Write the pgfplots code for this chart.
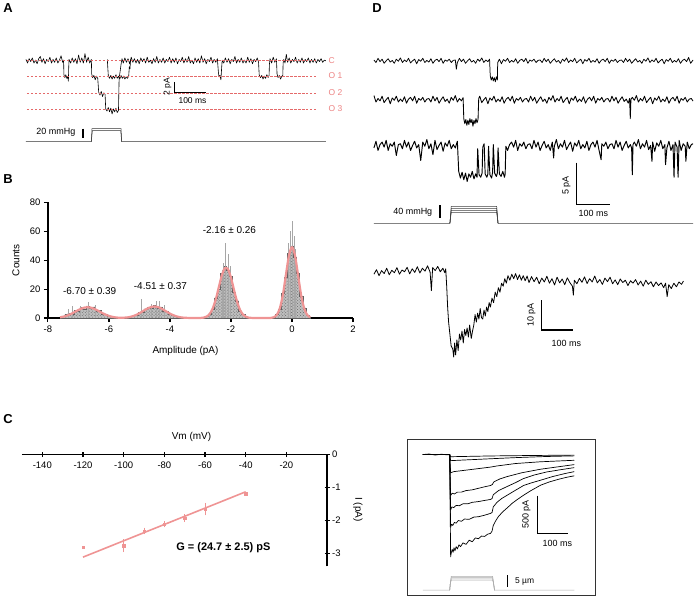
\documentclass[border=0pt]{standalone}
\usepackage{pgfplots}
\pgfplotsset{compat=1.18}
\usepackage{fontspec}
\setmainfont{Liberation Sans}
\usetikzlibrary{patterns}
\definecolor{dashred}{RGB}{228,105,105}
\definecolor{lblpink}{RGB}{236,130,130}
\definecolor{fitpink}{RGB}{239,148,148}
\newcommand\fs[1]{\fontsize{#1}{#1}\selectfont}
\pgfplotsset{
  tr/.style={hide axis, scale only axis, clip=false, anchor=south west},
  trace/.style={black, line width=0.6pt, line join=round},
}
\begin{document}
\begin{tikzpicture}
\path (0pt,0pt) rectangle (696pt,609pt);

% ---------------- A: single channel sweeps ----------------
\begin{axis}[tr, at={(24pt,464pt)}, width=300.8pt, height=98.55pt,
  xmin=0, xmax=940, ymin=-11.5, ymax=2]
\addplot[trace] coordinates {
(0,0.2)(5,-0.3)(10,0.3)(15,-0.1)(20,0.4)(25,-0.3)(30,0.1)(35,-0.4)(40,0.3)(45,0.6)(50,-0.2)(55,0.3)(60,-0.4)(65,0.2)(70,-0.1)(75,0.5)(80,-0.3)(85,0.2)(90,-0.2)(95,0.4)(100,-0.3)(105,0.1)(110,0.7)(115,-0.2)
(118,0.1)(119,-1.9)(122,-2.3)(125,-1.9)(128,-2.4)(131,-2.2)(133,-2.8)(134,-1.0)(135,0.2)
(140,-0.3)(145,0.4)(150,-0.2)(155,0.3)(160,-0.4)(165,0.8)(170,-0.2)(175,0.4)(180,-0.3)(185,1.0)(190,-0.2)(195,0.5)(200,-0.3)(205,0.2)
(206,-1.8)(209,-2.3)(213,-2.0)(217,-2.6)(221,-2.1)(225,-2.4)(228,-4.3)(232,-4.7)(236,-4.2)(240,-4.9)(244,-4.4)(248,-4.6)(250,-6.6)(254,-6.9)(258,-6.4)(262,-7.0)(266,-6.5)(270,-7.3)(274,-6.6)(278,-7.0)(282,-6.5)(286,-7.1)(290,-6.8)(292,-2.4)(295,-1.5)(298,-0.5)(301,0.3)(305,-0.3)(310,0.4)(315,-0.2)(320,0.3)
(325,-0.4)(330,0.5)(335,-0.2)(340,0.3)(345,-0.3)(350,0.2)(355,-0.4)(360,0.4)(365,-0.1)(370,0.3)(375,-0.3)(380,0.5)(385,-0.2)(390,0.1)(395,-0.4)(400,0.3)(405,-0.2)(410,0.6)(415,-0.3)(420,0.2)(425,-0.2)(430,0.4)(435,-0.3)(440,0.2)(445,-0.1)(450,0.5)(455,-0.3)(460,0.3)(465,-0.2)(470,0.4)(475,-0.4)(480,0.2)(485,-0.1)(490,0.5)(495,-0.3)(500,0.3)(505,-0.2)(510,0.6)(515,-0.3)(520,0.1)(525,-0.4)(530,0.4)(535,-0.2)(540,0.3)(545,-0.3)(550,0.7)(555,-0.2)(560,0.3)(565,-0.4)(570,0.2)(575,-0.1)(580,0.5)(585,-0.3)(590,0.2)(595,-0.2)(600,0.3)
(603,-1.5)(605,-2.2)(608,-2.0)(611,-2.6)(613,-1.2)(615,0.1)
(620,-0.3)(625,0.4)(630,-0.2)(635,0.3)(640,-0.4)(645,0.2)(650,-0.1)(655,0.6)(660,-0.3)(665,0.2)(670,-0.2)(675,0.4)(680,-0.3)(685,0.1)(690,-0.3)(695,0.5)(700,-0.2)(705,0.3)(710,-0.4)(715,0.2)(720,-0.1)(725,0.4)(729,-0.2)
(731,-1.9)(735,-2.3)(739,-2.0)(743,-2.5)(747,-2.1)(751,-2.4)(755,-1.9)(759,-2.3)(762,-2.0)(763,-0.5)(765,0.3)
(770,-0.3)(775,0.5)(780,-0.2)(785,0.3)
(787,-1.8)(790,-2.3)(794,-2.0)(798,-2.5)(802,-2.1)(805,-2.0)(806,-0.3)(808,0.2)
(812,-0.3)(816,0.9)(820,-0.2)(825,0.4)(830,-0.3)(835,0.2)(840,-0.1)(845,0.5)(850,-0.3)(855,0.2)(860,-0.2)(865,0.4)(870,-0.3)(875,0.2)(880,-0.1)(885,0.4)(890,-0.3)(895,0.2)(900,-0.2)(905,0.3)(910,-0.3)(915,0.2)(920,-0.1)(925,0.3)(930,-0.2)(935,0.1)(940,0.0)
};
% overlaid sweep that stays at O1
\addplot[trace] coordinates {
(255,0.2)(258,-2.0)(262,-2.4)(266,-2.0)(270,-2.5)(274,-2.1)(278,-2.4)(282,-1.9)(286,-2.4)(290,-2.1)(294,-2.5)(298,-2.0)(302,-2.4)(306,-2.1)(310,-2.5)(314,-2.2)(318,-2.4)(322,-2.1)(324,-0.8)(326,-1.1)(328,0.2)
};
% pressure steps
\addplot[black!80, line width=0.5pt] coordinates {(0,-11.1)(205,-11.1)(207,-9.3)(298,-9.3)(300,-11.1)(940,-11.1)};
\addplot[black!80, line width=0.5pt] coordinates {(205,-11.1)(208,-9.6)(297,-9.6)(300,-11.1)};
% conductance levels
\addplot[dashred, line width=0.8pt, dash pattern=on 2.4pt off 1.6pt] coordinates {(3,0)(915,0)};
\addplot[dashred, line width=0.8pt, dash pattern=on 2.4pt off 1.6pt] coordinates {(3,-2.16)(915,-2.16)};
\addplot[dashred, line width=0.8pt, dash pattern=on 2.4pt off 1.6pt] coordinates {(3,-4.51)(915,-4.51)};
\addplot[dashred, line width=0.8pt, dash pattern=on 2.4pt off 1.6pt] coordinates {(3,-6.70)(915,-6.70)};
\draw[line width=1.3pt] (axis cs:465.6,-2.88) -- (axis cs:465.6,-4.38) -- (axis cs:565.6,-4.38);
\draw[line width=1.8pt] (axis cs:178,-9.3) -- (axis cs:178,-10.6);
\end{axis}

% ---------------- B: amplitude histogram ----------------
\begin{axis}[scale only axis, anchor=south west, at={(46pt,290pt)}, width=306pt, height=116pt,
  xmin=-8, xmax=2, ymin=0, ymax=80,
  axis lines=left, axis line style={-, line width=1.3pt},
  tick align=outside, major tick length=4pt,
  tick style={black, line width=1.2pt},
  xtick={-8,-6,-4,-2,0,2}, ytick={0,20,40,60,80},
  /pgf/number format/assume math mode=true,
  tick label style={font=\fs{9.5}},
  clip=false]
\addplot[const plot mark mid, draw=gray!75!black, line width=0.3pt, fill=gray!50,
  postaction={pattern=crosshatch dots, pattern color=black!60}] coordinates {
(-7.6,0.8)(-7.5,1.5)(-7.4,2.5)(-7.3,3.5)(-7.2,3.0)(-7.1,5.5)(-7.0,4.8)(-6.9,7.5)(-6.8,6.5)(-6.7,8.5)(-6.6,7.0)(-6.5,7.8)(-6.4,5.0)(-6.3,5.2)(-6.2,3.0)(-6.1,2.8)(-6.0,1.2)(-5.9,1.0)(-5.8,0.4)(-5.7,0.5)(-5.6,0.3)(-5.5,0.4)(-5.4,0.6)(-5.3,1.2)(-5.2,1.8)(-5.1,2.0)(-5.0,4.0)(-4.9,4.2)(-4.8,6.5)(-4.7,7.5)(-4.6,7.2)(-4.5,8.8)(-4.4,7.0)(-4.3,7.8)(-4.2,5.0)(-4.1,4.8)(-4.0,2.6)(-3.9,2.3)(-3.8,1.0)(-3.7,0.8)(-3.6,0.3)(-3.5,0.2)(-3.4,0.2)(-3.3,0.1)(-3.2,0.1)(-3.1,0.1)(-3.0,0.2)(-2.9,0.4)(-2.8,1.2)(-2.7,3.0)(-2.6,6.0)(-2.5,14.0)(-2.4,20.0)(-2.3,31.0)(-2.2,36.0)(-2.1,33.0)(-2.0,29.0)(-1.9,18.0)(-1.8,12.0)(-1.7,5.0)(-1.6,2.6)(-1.5,0.9)(-1.4,0.4)(-1.3,0.3)(-1.2,0.2)(-1.1,0.3)(-1.0,0.2)(-0.9,0.3)(-0.8,0.3)(-0.7,0.4)(-0.6,0.7)(-0.5,2.5)(-0.4,6.0)(-0.3,17.0)(-0.2,28.0)(-0.1,45.0)(0.0,50.0)(0.1,42.0)(0.2,31.0)(0.3,15.0)(0.4,7.0)(0.5,2.0)(0.6,0.6)
} \closedcycle;
\addplot[ycomb, gray!70, line width=0.4pt, mark=none] coordinates {
(-7.35,6)(-7.2,8.5)(-6.95,8.5)(-6.67,11)(-6.45,9)(-4.93,13)(-4.6,10)(-4.45,12)(-4.34,11.7)(-4.2,9)(-2.3,33)(-2.25,38)(-2.18,52)(-2.1,44)(-2.02,36)(-0.12,52)(-0.06,60)(0.02,67)(0.07,57)(0.12,48)
};
\addplot[fitpink, line width=2.2pt, smooth, line join=round] coordinates {
(-7.6,0.52)(-7.5,0.91)(-7.4,1.50)(-7.3,2.30)(-7.2,3.30)(-7.1,4.43)(-7.0,5.58)(-6.9,6.57)(-6.8,7.26)(-6.7,7.5)(-6.6,7.26)(-6.5,6.57)(-6.4,5.58)(-6.3,4.43)(-6.2,3.30)(-6.1,2.30)(-6.0,1.50)(-5.9,0.91)(-5.8,0.52)(-5.7,0.28)(-5.6,0.22)(-5.5,0.28)(-5.4,0.44)(-5.3,0.82)(-5.2,1.41)(-5.1,2.24)(-5.0,3.33)(-4.9,4.59)(-4.8,5.88)(-4.7,7.01)(-4.6,7.77)(-4.5,8.0)(-4.4,7.65)(-4.3,6.81)(-4.2,5.63)(-4.1,4.33)(-4.0,3.10)(-3.9,2.06)(-3.8,1.27)(-3.7,0.73)(-3.6,0.38)(-3.5,0.2)(-3.3,0.05)(-3.1,0.02)(-3.0,0.08)(-2.9,0.30)(-2.8,1.0)(-2.7,2.79)(-2.6,6.52)(-2.5,12.8)(-2.4,21.2)(-2.3,29.5)(-2.2,34.5)(-2.1,33.9)(-2.0,28.0)(-1.9,19.5)(-1.8,11.4)(-1.7,5.58)(-1.6,2.30)(-1.5,0.80)(-1.4,0.23)(-1.2,0.02)(-1.0,0.0)(-0.8,0.02)(-0.7,0.1)(-0.6,0.54)(-0.5,2.15)(-0.4,6.63)(-0.3,15.9)(-0.2,29.7)(-0.1,43.2)(0.0,49.0)(0.1,43.2)(0.2,29.7)(0.3,15.9)(0.4,6.63)(0.5,2.15)(0.6,0.54)
};
\node[font=\fs{10}] at (axis cs:-6.63,18.6) {-6.70 ± 0.39};
\node[font=\fs{10}] at (axis cs:-4.31,22) {-4.51 ± 0.37};
\node[font=\fs{10}] at (axis cs:-2.05,61) {-2.16 ± 0.26};
\end{axis}

% ---------------- C: I-V relation ----------------
\begin{axis}[scale only axis, anchor=south west, at={(20pt,41pt)}, width=306pt, height=112pt,
  xmin=-150, xmax=0, ymin=-3.4, ymax=0,
  axis lines=middle, axis line style={-, line width=1.3pt},
  tick align=center, major tick length=5pt,
  tick style={black, line width=1.2pt},
  xtick={-140,-120,-100,-80,-60,-40,-20}, ytick={-3,-2,-1,0},
  hide obscured y ticks=false,
  /pgf/number format/assume math mode=true,
  tick label style={font=\fs{9.5}},
  xticklabel style={yshift=-1pt},
  yticklabel style={anchor=west, xshift=4pt},
  clip=false]
\addplot[fitpink, line width=1.6pt] coordinates {(-120,-3.12)(-40,-1.13)};
\addplot[fitpink, only marks, mark=square*, mark size=1.1pt,
  error bars/.cd, y dir=both, y explicit,
  error bar style={fitpink, line width=0.8pt}, error mark options={fitpink, mark size=2pt, line width=0.8pt}]
  coordinates {
  (-100,-2.77) +- (0,0.14)
  (-90,-2.32) +- (0,0.04)
  (-80,-2.12) +- (0,0.03)
  (-70,-1.93) +- (0,0.06)
  (-60,-1.66) +- (0,0.13)
};
\addplot[fitpink, only marks, mark=square*, mark size=1.1pt] coordinates {(-120,-2.82)(-40,-1.19)};
\end{axis}

% ---------------- D: sweeps at 40 mmHg ----------------
\begin{axis}[tr, at={(373pt,378.3pt)}, width=320pt, height=186.48pt,
  xmin=0, xmax=941, ymin=-20.2, ymax=2]
\addplot[trace, line width=0.75pt] coordinates {
(0,0.1)(6,-0.2)(12,0.3)(18,-0.1)(24,0.2)(30,-0.3)(36,0.0)(42,0.25)(48,-0.15)(54,0.05)(60,-0.3)(66,0.2)(72,-0.05)(78,0.35)(84,-0.2)(90,0.1)(96,-0.1)(102,0.3)(108,-0.25)(114,0.0)(120,0.2)(126,-0.35)(132,0.15)(138,-0.05)(144,0.3)(150,-0.2)(156,0.05)(162,-0.15)(168,0.25)(174,-0.3)(180,0.05)(186,0.2)(192,-0.1)(198,0.3)(204,-0.3)(210,0.1)(216,-0.05)(222,0.2)(228,-0.2)(234,0.05)
(240,0.1)(243,-1.0)(246,-0.2)(252,0.3)(258,-0.1)(264,0.2)(270,-0.3)(276,0.0)(282,0.25)(288,-0.15)(294,0.05)(300,-0.3)(306,0.2)(312,-0.05)(318,0.35)(324,-0.2)(330,0.1)(336,-0.1)(341,0.2)
(343,-1.8)(346,-2.3)(349,-1.9)(352,-2.4)(355,-2.0)(358,-2.5)(361,-1.9)(364,-2.3)(365,-0.2)
(370,0.2)(376,-0.35)(382,0.15)(388,-0.05)(394,0.3)(400,-0.2)(406,0.05)(412,-0.15)(418,0.25)(424,-0.3)(430,0.05)(436,0.2)(442,-0.1)(448,0.3)(454,-0.3)(460,0.1)(466,-0.05)(472,0.2)(478,-0.2)(484,0.05)(490,0.1)(496,-0.2)(502,0.3)(508,-0.1)(514,0.2)(520,-0.3)(526,0.0)(532,0.25)(538,-0.15)(544,0.05)(550,-0.3)(556,0.2)(562,-0.05)(568,0.35)(574,-0.2)(580,0.1)(586,-0.1)(592,0.3)(598,-0.25)(604,0.0)(610,0.2)(616,-0.35)(622,0.15)(628,-0.05)(634,0.3)(640,-0.2)(646,0.05)(652,-0.15)(658,0.25)(664,-0.3)(670,0.05)(676,0.2)(682,-0.1)(688,0.3)(694,-0.3)(700,0.1)(706,-0.05)(712,0.2)(718,-0.2)(724,0.05)(730,0.1)(736,-0.2)(742,0.3)(748,-0.1)(754,0.2)(760,-0.3)(766,0.0)(772,0.25)(778,-0.15)(784,0.05)(790,-0.3)(796,0.2)(802,-0.05)(808,0.35)(814,-0.2)(820,0.1)(826,-0.1)(832,0.3)(838,-0.25)(844,0.0)(850,0.2)(856,-0.35)(862,0.15)(868,-0.05)(874,0.3)(880,-0.2)(886,0.05)(892,-0.15)(898,0.25)(904,-0.3)(910,0.05)(916,0.2)(922,-0.1)(928,0.4)(934,-0.3)(941,0.1)
};
\addplot[trace, line width=0.85pt] coordinates {
(0,-4.15)(6,-4.92)(12,-4.50)(18,-4.78)(24,-4.22)(30,-4.99)(36,-4.64)(42,-4.36)(48,-5.13)(54,-4.43)(60,-4.71)(66,-4.22)(72,-4.92)(78,-4.57)(84,-4.85)(90,-4.29)(96,-5.06)(102,-4.57)(108,-4.36)(114,-4.78)(120,-4.22)(126,-5.06)(132,-4.50)(138,-4.71)(144,-4.36)(150,-4.92)(156,-4.57)(162,-4.50)(168,-4.92)(174,-4.22)(180,-4.78)(186,-4.36)(192,-5.06)(198,-4.64)(204,-4.29)(210,-4.85)(216,-4.57)(222,-5.06)(228,-4.36)(234,-4.71)
(240,-4.15)(246,-4.92)(252,-4.50)(258,-4.78)(263,-4.4)
(265,-6.9)(268,-7.5)(271,-7.0)(274,-7.7)(277,-7.1)(280,-7.6)(283,-6.9)(286,-7.4)(289,-7.0)(292,-7.8)(295,-7.1)(298,-7.5)(301,-6.9)(304,-7.4)(307,-7.0)(309,-4.5)
(312,-4.22)(318,-4.99)(324,-4.64)(330,-4.36)(336,-5.13)(342,-4.43)(348,-4.71)(354,-4.22)(360,-4.92)(366,-4.57)(372,-4.85)(378,-4.29)(384,-5.06)(390,-4.57)(396,-4.36)(402,-4.78)(408,-4.22)(414,-5.06)(420,-4.50)(426,-4.71)(432,-4.36)(438,-4.92)(444,-4.57)(450,-4.50)(456,-4.92)(462,-4.22)(468,-4.78)(474,-4.36)(480,-5.06)(486,-4.64)(492,-4.29)(498,-4.85)(504,-4.57)(510,-5.06)(516,-4.36)(522,-4.71)(528,-4.15)(534,-4.92)(540,-4.50)(546,-4.78)(552,-4.22)(558,-4.99)(564,-4.64)(570,-4.36)(576,-5.13)(582,-4.43)(588,-4.71)(594,-4.22)(600,-4.92)(606,-4.57)(612,-4.85)(618,-4.29)(624,-5.06)(630,-4.57)(636,-4.36)(642,-4.78)(648,-4.22)(654,-5.06)(660,-4.50)(666,-4.71)(672,-4.36)(678,-4.92)(684,-4.57)(690,-4.50)(696,-4.92)(702,-4.22)(708,-4.78)(714,-4.36)(720,-5.06)(726,-4.64)(732,-4.29)(738,-4.85)(744,-4.57)(750,-5.06)(754,-4.5)(756,-6.9)(758,-4.6)(762,-4.36)(768,-4.71)(774,-4.15)(780,-4.92)(786,-4.50)(792,-4.78)(798,-4.22)(804,-4.99)(810,-4.64)(816,-4.36)(822,-5.13)(828,-4.43)(834,-4.71)(840,-4.22)(846,-4.92)(852,-4.57)(858,-4.85)(864,-4.29)(870,-5.06)(876,-4.57)(882,-4.36)(888,-4.78)(894,-4.22)(900,-5.06)(906,-4.50)(912,-4.71)(918,-4.36)(924,-4.92)(930,-4.57)(936,-4.50)(941,-4.8)
};
\addplot[trace, line width=0.95pt] coordinates {
(0,-10.4)(6,-9.6)(12,-10.7)(18,-10.0)(24,-9.7)(30,-10.3)(36,-9.5)(42,-10.7)(48,-9.9)(54,-10.2)(60,-9.7)(66,-11.3)(72,-10.0)(78,-9.9)(84,-10.5)(90,-9.5)(96,-10.3)(102,-9.7)(108,-10.7)(114,-10.1)(120,-9.6)(126,-10.4)(132,-10.0)(138,-11.9)(144,-9.7)(150,-10.2)(156,-9.4)(162,-10.5)(168,-9.9)(174,-11.2)(180,-9.5)(186,-10.6)(192,-10.1)(198,-9.7)(204,-10.8)(210,-9.8)(216,-10.2)(222,-9.5)(228,-10.5)(234,-10.0)(240,-10.4)(246,-9.6)
(250,-13.2)(255,-14.0)(260,-13.3)(265,-14.2)(270,-13.4)(275,-14.4)(280,-13.5)(285,-13.9)(290,-13.2)(295,-14.1)(300,-13.5)(304,-13.9)(306,-10.5)(310,-13.6)(315,-13.9)(319,-13.4)(321,-10.3)(325,-9.9)(328,-13.5)(333,-13.9)(336,-13.5)(338,-10.2)(342,-13.6)(347,-14.0)(350,-13.3)(352,-10.0)(356,-13.4)(361,-13.8)(364,-13.4)(366,-10.4)(370,-13.5)(375,-13.8)(380,-13.2)(385,-13.9)(387,-13.5)(389,-10.2)
(394,-10.7)(400,-10.0)(406,-9.7)(412,-10.3)(418,-9.5)(424,-10.7)(430,-9.9)(436,-10.2)(442,-9.7)(448,-10.5)(454,-10.0)(460,-9.9)(466,-10.5)(472,-9.5)(478,-10.3)(484,-9.7)(490,-10.7)(496,-10.1)(502,-9.6)(508,-10.4)(514,-10.0)(520,-10.7)(526,-9.7)(530,-11.6)(532,-10.2)(538,-9.4)(544,-10.5)(550,-9.9)(556,-10.3)(562,-9.5)(568,-10.6)(574,-10.1)(580,-9.7)(586,-10.8)(592,-9.8)(598,-10.2)(604,-9.5)(610,-10.5)(616,-10.0)(622,-10.4)(628,-9.6)(634,-10.7)(640,-10.0)(646,-9.7)(652,-10.3)(658,-9.5)(664,-10.7)(670,-11.8)(672,-9.9)(678,-10.2)(684,-9.7)(690,-10.5)(696,-10.0)(702,-9.9)(708,-10.5)(714,-9.5)(720,-10.3)(726,-9.7)(732,-10.7)(738,-10.1)(744,-9.6)(750,-10.4)(756,-10.0)(760,-10.4)(762,-13.6)(764,-10.0)(768,-9.7)(774,-10.2)(780,-9.4)(786,-10.5)(792,-9.9)(798,-10.3)(804,-9.5)(810,-10.6)(816,-10.1)(820,-12.0)(822,-9.7)(828,-10.8)(834,-9.8)(840,-10.2)(846,-9.5)(852,-10.5)(858,-10.0)(860,-12.4)(864,-10.4)(870,-9.6)(876,-10.7)(882,-10.0)(885,-13.9)(888,-9.7)(894,-10.3)(897,-13.9)(900,-9.5)(906,-10.7)(912,-9.9)(918,-10.2)(920,-12.0)(924,-9.7)(930,-10.5)(936,-10.0)(941,-9.9)
};
\addplot[black!75, line width=0.5pt] coordinates {(0,-19.4)(224,-19.4)(228,-17.38)(362,-17.38)(366,-19.4)(941,-19.4)};
\addplot[black!75, line width=0.5pt] coordinates {(224,-19.4)(228,-17.62)(362,-17.62)(366,-19.4)};
\addplot[black!75, line width=0.5pt] coordinates {(224,-19.4)(228,-17.86)(362,-17.86)(366,-19.4)};
\addplot[black!75, line width=0.5pt] coordinates {(224,-19.4)(228,-18.1)(362,-18.1)(366,-19.4)};
\draw[line width=1.3pt] (axis cs:597,-12.14) -- (axis cs:597,-17.14) -- (axis cs:697,-17.14);
\draw[line width=1.8pt] (axis cs:194,-17.26) -- (axis cs:194,-18.8);
\end{axis}

% whole-patch average
\begin{axis}[tr, at={(373pt,247pt)}, width=310.4pt, height=105pt,
  xmin=0, xmax=970, ymin=-30, ymax=5]
\addplot[trace, line width=0.8pt] coordinates {
(0,-1.0)(8,0.5)(16,-1.5)(24,0.2)(32,-0.8)(40,1.0)(48,-1.2)(56,0.3)(64,-0.5)(72,1.2)(80,-1.0)(88,0.4)(96,-0.2)(104,1.3)(112,-0.9)(120,0.8)(128,-0.4)(136,1.5)(144,-0.6)(152,1.0)(160,0.0)(168,1.8)(176,-0.3)(180,-6.5)(184,1.2)(192,0.2)(200,1.6)(208,-0.2)(216,1.0)(222,-0.5)(225,0.8)
(228,-5)(231,-12)(234,-17)(238,-21)(242,-25)(247,-26)(250,-28.7)(253,-24)(256,-28)(260,-23)(264,-26.5)(268,-21)(272,-23)(276,-20)(280,-24)(284,-19.5)(288,-21.5)(292,-19)(296,-22)(300,-18)(305,-22.5)(309,-20)(313,-18)(317,-14.5)(321,-17)(325,-14)(329,-16)(333,-12.5)(337,-15.5)(341,-16)(345,-13)(349,-15)(353,-12)(357,-13.5)(361,-10.5)(365,-12)(370,-9)(375,-10.5)(380,-7)(385,-8.5)(390,-5.5)(395,-7)(400,-4)(405,-5)(410,-2.5)(415,-4)(420,-1.5)(426,-3)(432,-1.0)(438,-2.5)(444,-0.8)(450,-2.8)(456,-1.2)(462,-3.0)(468,-1.5)(474,-3.2)(480,-1.6)
(486,-3.8)(494,-1.8)(502,-3.5)(510,-2.0)(518,-4.2)(526,-2.3)(534,-3.6)(542,-1.7)(550,-4.0)(558,-2.5)(566,-4.6)(574,-2.0)(582,-3.9)(590,-2.6)(598,-4.5)(606,-2.2)(614,-3.8)(622,-5.0)(625,-8.0)(628,-3.0)(636,-4.2)(644,-2.4)(652,-3.7)(660,-1.9)(668,-4.1)(676,-2.5)(684,-3.6)(692,-1.6)(700,-3.9)(708,-2.8)(716,-4.4)(724,-2.3)(732,-3.5)(740,-2.0)(748,-4.2)(756,-2.9)(764,-4.5)(772,-2.6)(780,-3.8)(788,-3.0)(796,-4.8)(804,-3.2)(812,-4.0)(820,-2.8)(828,-4.6)(836,-3.3)(844,-5.0)(852,-3.0)(860,-4.4)(868,-3.5)(876,-5.2)(884,-3.6)(892,-4.8)(900,-3.9)(908,-5.5)(914,-4.0)(919,-8.5)(924,-4.5)(932,-5.8)(940,-4.0)(948,-5.2)(956,-3.6)(964,-4.4)(970,-3.3)
};
\draw[line width=1.3pt] (axis cs:525,-9.67) -- (axis cs:525,-19.67) -- (axis cs:625,-19.67);
\end{axis}

% ---------------- inset: whole-cell currents ----------------
\draw[black!80, line width=0.8pt] (407pt,12pt) rectangle (595pt,168pt);
\begin{axis}[tr, at={(422pt,14pt)}, width=151.9pt, height=145.16pt,
  xmin=0, xmax=490, ymin=-1830, ymax=80]
\addplot[trace, line width=0.7pt] coordinates {(0,0)(20,8)(40,-6)(60,5)(80,-4)(87,0)(89,-900)(90,-1350)(92,-1300)(95,-1250)(98,-1290)(101,-1230)(104,-1270)(108,-1215)(112,-1245)(117,-1190)(122,-1215)(130,-1165)(140,-1185)(150,-1130)(160,-1150)(170,-1100)(180,-1110)(190,-1075)(200,-1080)(210,-1050)(219,-1040)(224,-1010)(228,-935)(235,-880)(245,-815)(260,-750)(274,-700)(290,-640)(305,-595)(326,-536)(350,-475)(381,-404)(410,-360)(440,-325)(465,-300)(490,-280)};
\addplot[trace, line width=0.7pt] coordinates {(0,0)(87,0)(89,-700)(90,-960)(93,-920)(97,-935)(102,-895)(108,-905)(115,-870)(125,-880)(135,-850)(150,-855)(165,-825)(180,-820)(200,-800)(219,-776)(224,-765)(228,-690)(240,-630)(255,-580)(273,-536)(300,-470)(326,-408)(350,-375)(381,-338)(420,-290)(460,-250)(490,-225)};
\addplot[trace, line width=0.7pt] coordinates {(0,0)(87,0)(89,-500)(90,-730)(94,-690)(100,-700)(108,-670)(118,-675)(130,-650)(145,-650)(160,-630)(180,-620)(200,-605)(219,-592)(224,-580)(228,-530)(245,-475)(273,-421)(300,-370)(326,-316)(360,-270)(400,-230)(445,-200)(490,-172)};
\addplot[trace, line width=0.7pt] coordinates {(0,0)(87,0)(89,-400)(90,-540)(95,-510)(102,-520)(112,-495)(125,-495)(140,-475)(160,-465)(180,-445)(200,-425)(219,-408)(225,-395)(230,-360)(250,-320)(273,-290)(320,-240)(381,-193)(440,-160)(490,-132)};
\addplot[trace, line width=0.7pt] coordinates {(0,0)(87,0)(90,-240)(100,-225)(120,-215)(150,-200)(180,-185)(219,-165)(240,-150)(300,-118)(380,-95)(490,-75)};
\addplot[trace, line width=0.7pt] coordinates {(0,0)(87,0)(90,-80)(130,-72)(219,-55)(300,-40)(400,-25)(490,-17)};
\addplot[trace, line width=0.7pt] coordinates {(0,0)(87,0)(90,-28)(219,-18)(350,-12)(490,-7)};
\addplot[gray!65, line width=0.5pt] coordinates {(0,-1790)(87,-1790)(89,-1700)(92,-1606)(226,-1606)(229,-1700)(232,-1790)(490,-1790)};
\addplot[gray!65, line width=0.5pt] coordinates {(87,-1790)(89,-1700)(92,-1625)(226,-1625)(229,-1700)(232,-1790)};
\addplot[gray!65, line width=0.5pt] coordinates {(87,-1790)(89,-1700)(92,-1640)(226,-1640)(229,-1700)(232,-1790)};
\addplot[gray!65, line width=0.5pt] coordinates {(87,-1790)(89,-1700)(92,-1658)(226,-1658)(229,-1700)(232,-1790)};
\draw[line width=1.3pt] (axis cs:371,-540) -- (axis cs:371,-1040) -- (axis cs:471,-1040);
\draw[line width=1.5pt] (axis cs:274,-1592) -- (axis cs:274,-1750);
\end{axis}

% ---------------- text ----------------
\begin{scope}[x=1pt,y=1pt]
\node[font=\fs{13}\bfseries] at (6,601) {A};
\node[font=\fs{13}\bfseries] at (6,429) {B};
\node[font=\fs{13}\bfseries] at (6,189) {C};
\node[font=\fs{13}\bfseries] at (376,601) {D};

\begin{scope}[font=\fs{8.5}, text=lblpink]
\node[anchor=west] at (324,548) {C};
\node[anchor=west] at (324,533) {O 1};
\node[anchor=west] at (324,516) {O 2};
\node[anchor=west] at (324,500) {O 3};
\end{scope}
\node[font=\fs{8.5}, rotate=90] at (166,522) {2 pA};
\node[font=\fs{8.5}] at (191,508) {100 ms};
\node[font=\fs{9}, anchor=east] at (77,476) {20 mmHg};

\node[font=\fs{10}, rotate=90] at (14,348) {Counts};
\node[font=\fs{10}] at (184,257) {Amplitude (pA)};

\node[font=\fs{10}] at (190,171) {Vm (mV)};
\node[font=\fs{10}, rotate=-90] at (357,98) {I (pA)};
\node[font=\fs{11}\bfseries] at (222,60) {G = (24.7 ± 2.5) pS};

\node[font=\fs{9}, rotate=90] at (566,423) {5 pA};
\node[font=\fs{9}] at (593,395) {100 ms};
\node[font=\fs{9}, anchor=east] at (435,396) {40 mmHg};
\node[font=\fs{9}, rotate=90] at (531,293) {10 pA};
\node[font=\fs{9}] at (566,265) {100 ms};
\node[font=\fs{9}, rotate=90] at (526,93) {500 pA};
\node[font=\fs{9}] at (557,64) {100 ms};
\node[font=\fs{8.5}, anchor=west] at (511,26) {5 µm};
\end{scope}
\end{tikzpicture}
\end{document}
